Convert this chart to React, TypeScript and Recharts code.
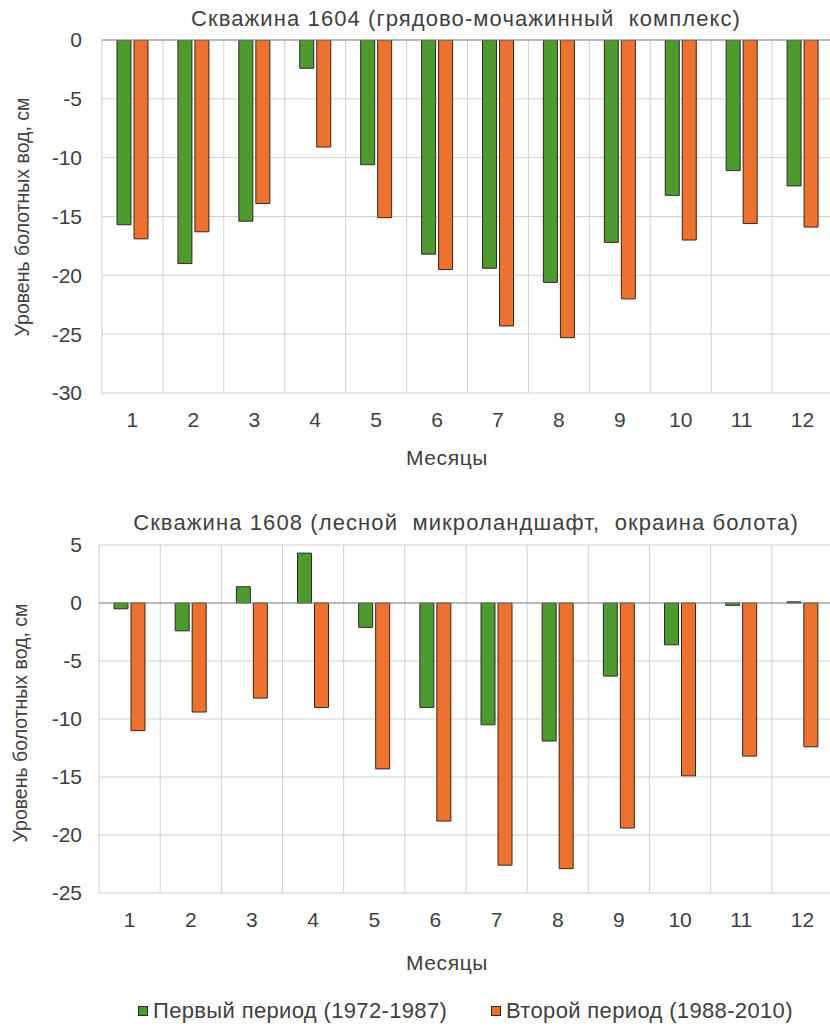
import React from "react";
import {
  Bar,
  BarChart,
  CartesianGrid,
  ReferenceLine,
  XAxis,
  YAxis,
} from "recharts";

const months = ["1", "2", "3", "4", "5", "6", "7", "8", "9", "10", "11", "12"];

// Скважина 1604
const well1604First = [-15.7, -19.0, -15.4, -2.4, -10.6, -18.2, -19.4, -20.6, -17.2, -13.2, -11.1, -12.4];
const well1604Second = [-16.9, -16.3, -13.9, -9.1, -15.1, -19.5, -24.3, -25.3, -22.0, -17.0, -15.6, -15.9];

// Скважина 1608
const well1608First = [-0.5, -2.4, 1.4, 4.3, -2.1, -9.0, -10.5, -11.9, -6.3, -3.6, -0.2, 0.1];
const well1608Second = [-11.0, -9.4, -8.2, -9.0, -14.3, -18.8, -22.6, -22.9, -19.4, -14.9, -13.2, -12.4];

const ticks1604 = [-30, -25, -20, -15, -10, -5, 0];
const ticks1608 = [-25, -20, -15, -10, -5, 0, 5];

const firstLabel = "Первый период (1972-1987)";
const secondLabel = "Второй период (1988-2010)";

const GREEN = "#4e9a2f";
const ORANGE = "#ed7230";
const TEXT = "#404040";
const FONT = "'Liberation Sans', Arial, sans-serif";

function buildRows(first: number[], second: number[]) {
  return months.map((m, i) => ({ month: m, first: first[i], second: second[i] }));
}

interface PanelProps {
  top: number;
  height: number;
  axisWidth: number;
  first: number[];
  second: number[];
  ticks: number[];
}

function Panel({ top, height, axisWidth, first, second, ticks }: PanelProps) {
  const rows = buildRows(first, second);
  return (
    <div style={{ position: "absolute", left: 0, top }}>
      <BarChart
        width={834}
        height={height}
        data={rows}
        margin={{ top: 40, right: 1, left: 0, bottom: 0 }}
        barSize={14}
        barGap={3}
      >
        <CartesianGrid
          stroke="#d0d0d0"
          strokeWidth={1}
          verticalCoordinatesGenerator={({ offset }: any) =>
            months.map((_, i) => offset.left + (i * offset.width) / months.length).concat(offset.left + offset.width)
          }
        />
        <XAxis
          dataKey="month"
          axisLine={false}
          tickLine={false}
          tickSize={0}
          tickMargin={19}
          height={87}
          tick={{ fill: TEXT, fontSize: 21, fontFamily: FONT }}
        />
        <YAxis
          domain={[ticks[0], ticks[ticks.length - 1]]}
          ticks={ticks}
          axisLine={false}
          tickLine={false}
          tickSize={0}
          tickMargin={axisWidth - 82}
          width={axisWidth}
          tick={{ fill: TEXT, fontSize: 21, fontFamily: FONT }}
          allowDataOverflow
        />
        <ReferenceLine y={0} stroke="#8c8c8c" strokeWidth={1.2} />
        <Bar dataKey="first" fill={GREEN} stroke="#2a2a2a" strokeWidth={1} isAnimationActive={false} />
        <Bar dataKey="second" fill={ORANGE} stroke="#3a2418" strokeWidth={1} isAnimationActive={false} />
      </BarChart>
    </div>
  );
}

const textBase: React.CSSProperties = {
  position: "absolute",
  fontFamily: FONT,
  color: TEXT,
  whiteSpace: "pre",
  lineHeight: 1,
};

interface TextProps {
  x: number;
  y: number;
  size: number;
  spacing?: number;
  children: React.ReactNode;
}

function Centered({ x, y, size, spacing = 0, children }: TextProps) {
  return (
    <div
      style={{
        ...textBase,
        left: x,
        top: y,
        fontSize: size,
        letterSpacing: spacing,
        transform: "translate(-50%, -50%)",
      }}
    >
      {children}
    </div>
  );
}

function Vertical({ x, y, size, spacing = 0, children }: TextProps) {
  return (
    <div
      style={{
        ...textBase,
        left: x,
        top: y,
        fontSize: size,
        letterSpacing: spacing,
        transform: "translate(-50%, -50%) rotate(-90deg)",
      }}
    >
      {children}
    </div>
  );
}

function LegendItem({ x, color, border, label }: { x: number; color: string; border: string; label: string }) {
  return (
    <>
      <span
        style={{
          position: "absolute",
          left: x,
          top: 1006,
          width: 8,
          height: 8,
          background: color,
          border: `1px solid ${border}`,
        }}
      />
      <span style={{ ...textBase, left: x + 15, top: 1000, fontSize: 22, letterSpacing: 0.35 }}>{label}</span>
    </>
  );
}

export default function App() {
  return (
    <div
      style={{
        position: "absolute",
        left: 0,
        top: 0,
        width: 830,
        height: 1030,
        background: "#ffffff",
        overflow: "hidden",
      }}
    >
      <Centered x={466} y={19} size={22} spacing={1.1}>
        {"Скважина 1604 (грядово-мочажинный  комплекс)"}
      </Centered>
      <Panel top={0} height={480} axisWidth={102} first={well1604First} second={well1604Second} ticks={ticks1604} />
      <Vertical x={23} y={217} size={19.5}>
        {"Уровень болотных вод, см"}
      </Vertical>
      <Centered x={447} y={457} size={21} spacing={0.6}>
        {"Месяцы"}
      </Centered>

      <Centered x={466} y={523} size={22} spacing={1.1}>
        {"Скважина 1608 (лесной  микроландшафт,  окраина болота)"}
      </Centered>
      <Panel top={505} height={475} axisWidth={99} first={well1608First} second={well1608Second} ticks={ticks1608} />
      <Vertical x={21} y={723} size={19.5}>
        {"Уровень болотных вод, см"}
      </Vertical>
      <Centered x={447} y={962} size={21} spacing={0.6}>
        {"Месяцы"}
      </Centered>

      <LegendItem x={138} color={GREEN} border="#2a2a2a" label={firstLabel} />
      <LegendItem x={491} color={ORANGE} border="#3a2418" label={secondLabel} />
    </div>
  );
}
